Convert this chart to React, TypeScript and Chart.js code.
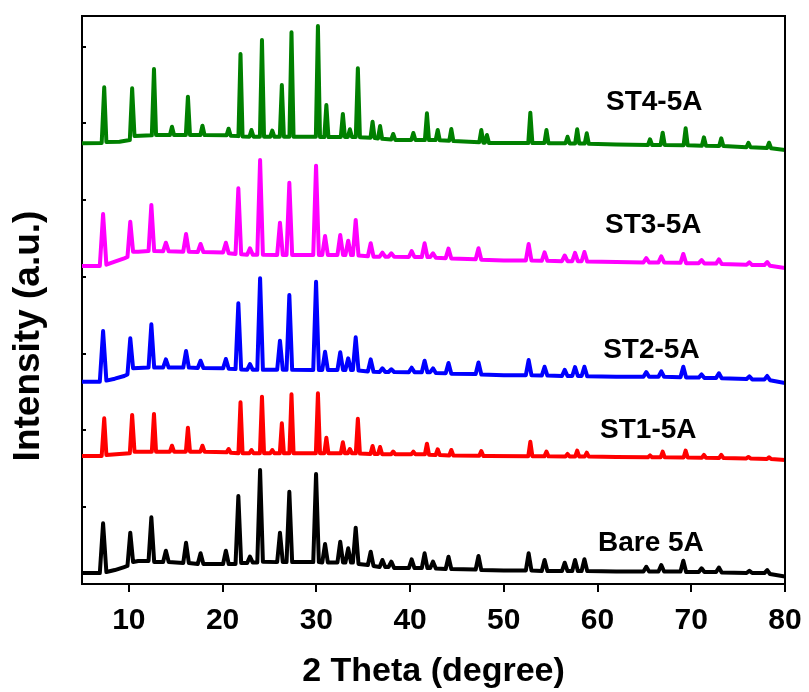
import React, { useEffect, useRef } from "react";
import { Chart, registerables } from "chart.js";

Chart.register(...registerables);

// ---------- DATA ----------
const SERIES_NAMES = ["Bare 5A", "ST1-5A", "ST2-5A", "ST3-5A", "ST4-5A"];
const SERIES_COLORS = ["#000000", "#FF0000", "#0000FF", "#FF00FF", "#008000"];
const SERIES_OFFSETS = [0, 150, 250, 400, 560];
const X_TICKS = [10, 20, 30, 40, 50, 60, 70, 80];
const Y_TICKS = [100, 200, 300, 400, 500, 600, 700];

// 2θ grid for Bare 5A, ST2-5A, ST3-5A
const THETA_BROAD = [
  5.0, 6.9, 7.25, 7.6, 8.5, 9.5, 9.85, 10.15, 10.45, 11.0,
  12.1, 12.4, 12.7, 13.65, 13.95, 14.25, 15.8, 16.1, 16.4, 17.35,
  17.65, 17.95, 20.05, 20.35, 20.65, 21.38, 21.68, 21.98, 22.62, 22.92,
  23.22, 23.7, 24.0, 24.3, 25.82, 26.12, 26.42, 26.82, 27.12, 27.42,
  29.67, 29.97, 30.27, 30.63, 30.93, 31.23, 32.25, 32.55, 32.85, 33.1,
  33.4, 33.7, 33.9, 34.2, 34.5, 35.5, 35.8, 36.1, 36.75, 37.05,
  37.35, 37.7, 38.0, 38.3, 39.87, 40.17, 40.47, 41.25, 41.55, 41.85,
  42.15, 42.45, 42.75, 43.8, 44.1, 44.4, 47.0, 47.3, 47.6, 50.0,
  52.35, 52.65, 52.95, 54.05, 54.35, 54.65, 56.2, 56.5, 56.8, 57.3,
  57.6, 57.9, 58.3, 58.6, 58.9, 62.0, 64.9, 65.2, 65.5, 66.5,
  66.8, 67.1, 68.85, 69.15, 69.45, 70.8, 71.1, 71.4, 72.65, 72.95,
  73.25, 75.9, 76.2, 76.5, 77.8, 78.1, 78.4, 80.0,
];

const BARE_5A = [
  14.3, 14.3, 79.1, 15.6, 18.2, 22.1, 23.5, 66.8, 28.7, 30.0,
  30.0, 86.9, 28.7, 28.7, 43.4, 28.7, 27.4, 53.8, 27.4, 26.1,
  40.0, 26.1, 26.1, 43.4, 26.1, 26.1, 114.6, 27.4, 27.4, 35.6,
  28.0, 28.0, 148.5, 29.0, 28.5, 66.8, 28.5, 28.5, 120.2, 28.5,
  28.5, 143.3, 28.5, 28.0, 52.1, 28.0, 28.0, 55.1, 28.0, 28.0,
  46.5, 28.0, 28.0, 73.3, 26.1, 24.8, 42.1, 23.5, 22.1, 31.3,
  22.1, 22.1, 29.1, 20.8, 20.8, 32.2, 20.8, 20.8, 40.0, 20.8,
  20.8, 29.1, 20.2, 19.5, 35.6, 19.5, 18.9, 36.5, 18.2, 17.6,
  17.6, 40.0, 17.6, 16.9, 31.3, 16.9, 16.9, 27.7, 16.9, 16.9,
  31.3, 16.9, 16.9, 32.2, 16.9, 16.3, 16.3, 22.5, 16.3, 16.3,
  24.8, 16.3, 16.3, 30.4, 15.6, 15.6, 20.5, 15.6, 15.6, 21.5,
  15.0, 14.3, 17.3, 14.3, 14.3, 18.2, 13.0, 9.8,
];

const ST2_5A = [
  13.6, 13.6, 79.6, 15.0, 17.5, 21.0, 23.0, 70.1, 31.0, 31.5,
  32.0, 88.3, 32.0, 32.0, 42.7, 32.0, 32.0, 53.5, 32.0, 31.5,
  40.9, 31.5, 31.0, 43.1, 30.5, 30.0, 115.7, 29.5, 29.0, 36.6,
  29.0, 29.0, 148.3, 29.0, 29.0, 67.0, 29.0, 29.0, 126.5, 29.0,
  28.8, 143.8, 28.8, 28.8, 52.6, 28.8, 28.8, 51.9, 28.8, 28.8,
  44.0, 28.8, 28.8, 71.4, 28.0, 27.0, 42.7, 26.5, 26.2, 31.0,
  26.2, 26.2, 29.7, 26.2, 26.0, 31.8, 26.0, 26.0, 40.9, 26.0,
  26.0, 31.0, 25.0, 24.5, 38.0, 24.0, 23.5, 38.5, 23.0, 22.0,
  22.0, 41.8, 22.0, 21.5, 33.0, 21.5, 21.0, 29.0, 21.0, 21.0,
  32.5, 21.0, 21.0, 33.0, 20.5, 20.0, 20.0, 26.0, 20.0, 20.0,
  27.0, 20.0, 19.5, 33.0, 19.0, 19.0, 23.0, 18.5, 18.5, 24.5,
  18.0, 17.0, 20.5, 16.5, 16.5, 21.0, 15.5, 11.9,
];

const ST3_5A = [
  14.3, 14.3, 82.0, 16.0, 20.0, 24.3, 26.0, 72.0, 32.9, 33.0,
  33.8, 93.8, 33.8, 33.5, 44.6, 33.5, 33.0, 56.0, 33.0, 32.5,
  43.0, 32.5, 32.0, 44.6, 31.0, 30.0, 115.5, 29.5, 29.0, 37.3,
  29.0, 29.0, 152.4, 29.0, 28.6, 70.7, 28.6, 28.6, 122.8, 28.6,
  28.6, 145.0, 28.6, 28.6, 53.4, 28.6, 28.6, 54.8, 28.6, 28.6,
  47.3, 28.6, 28.6, 74.2, 28.0, 27.0, 43.9, 26.5, 26.4, 31.6,
  26.4, 26.4, 30.8, 26.4, 26.0, 33.8, 26.0, 26.0, 43.9, 26.0,
  26.0, 30.8, 25.0, 24.5, 37.0, 24.0, 23.0, 37.5, 22.5, 21.5,
  21.5, 43.0, 21.5, 21.0, 32.0, 21.0, 20.5, 28.0, 20.5, 20.5,
  31.5, 20.5, 20.5, 32.5, 20.0, 19.5, 19.0, 24.5, 19.0, 19.0,
  27.0, 19.0, 18.5, 30.0, 18.0, 18.0, 22.0, 17.5, 17.5, 23.0,
  17.0, 16.0, 19.0, 15.5, 15.5, 19.5, 14.5, 11.7,
];

// 2θ grid for ST1-5A, ST4-5A (sharper, slightly shifted peaks)
const THETA_SHARP = [
  5.0, 7.1, 7.37, 7.6, 9.0, 10.1, 10.35, 10.6, 12.45, 12.68,
  12.9, 14.38, 14.6, 14.82, 16.08, 16.3, 16.52, 17.63, 17.85, 18.07,
  20.42, 20.64, 20.86, 21.69, 21.91, 22.13, 22.86, 23.08, 23.3, 23.98,
  24.2, 24.42, 25.08, 25.3, 25.52, 26.1, 26.32, 26.54, 27.13, 27.35,
  27.57, 29.95, 30.17, 30.39, 30.85, 31.07, 31.29, 32.61, 32.83, 33.05,
  33.36, 33.58, 33.8, 34.21, 34.43, 34.65, 35.78, 36.0, 36.22, 36.58,
  36.8, 37.02, 37.98, 38.2, 38.42, 40.13, 40.35, 40.57, 41.58, 41.8,
  42.02, 42.73, 42.95, 43.17, 44.18, 44.4, 44.62, 47.38, 47.6, 47.82,
  47.98, 48.2, 48.42, 52.61, 52.83, 53.05, 54.33, 54.55, 54.77, 56.58,
  56.8, 57.02, 57.61, 57.83, 58.05, 58.63, 58.85, 59.07, 62.0, 65.38,
  65.6, 65.82, 66.73, 66.95, 67.17, 69.18, 69.4, 69.62, 71.13, 71.35,
  71.57, 72.98, 73.2, 73.42, 75.88, 76.1, 76.32, 78.08, 78.3, 78.52,
  80.0,
];

const ST1_5A = [
  16.8, 16.8, 65.9, 18.1, 19.4, 20.3, 70.2, 22.4, 22.4, 71.5,
  22.4, 22.4, 30.2, 22.4, 22.4, 53.6, 22.4, 22.4, 30.2, 22.4,
  21.5, 25.9, 21.0, 20.5, 86.7, 20.3, 20.3, 24.6, 20.3, 20.3,
  94.1, 20.3, 20.3, 24.6, 20.3, 20.3, 59.4, 20.3, 20.3, 97.1,
  20.3, 20.3, 98.4, 20.3, 20.3, 40.6, 20.3, 20.3, 34.6, 20.3,
  20.3, 25.9, 20.3, 20.3, 65.2, 20.0, 19.5, 29.8, 19.3, 19.3,
  28.5, 19.0, 19.0, 22.6, 19.0, 19.0, 22.4, 19.0, 19.0, 32.8,
  18.5, 18.0, 25.5, 18.0, 17.5, 24.6, 17.5, 17.0, 23.3, 16.8,
  16.8, 16.8, 16.8, 16.5, 35.4, 16.5, 16.3, 22.4, 16.3, 16.0,
  19.4, 16.0, 16.0, 23.7, 16.0, 16.0, 21.1, 16.0, 15.5, 15.1,
  17.5, 15.1, 15.0, 22.4, 15.0, 14.8, 23.7, 14.8, 14.5, 18.1,
  14.5, 14.2, 18.1, 14.2, 13.6, 15.5, 13.6, 12.8, 15.1, 12.8,
  11.5,
];

const ST4_5A = [
  14.1, 14.5, 87.1, 15.8, 16.2, 18.4, 85.8, 23.7, 24.5, 110.9,
  25.0, 25.0, 35.8, 25.0, 25.0, 74.9, 25.0, 25.0, 37.1, 25.0,
  24.5, 33.2, 24.0, 23.5, 130.5, 23.0, 22.7, 31.5, 22.7, 22.7,
  148.7, 22.7, 22.7, 30.6, 22.7, 22.7, 90.1, 22.7, 22.7, 158.8,
  22.7, 22.7, 167.0, 22.5, 22.3, 64.0, 22.3, 22.3, 52.3, 22.3,
  22.3, 32.4, 22.3, 22.3, 111.9, 22.0, 21.5, 42.3, 21.0, 20.5,
  36.7, 20.0, 19.0, 26.3, 18.5, 18.4, 27.6, 18.4, 18.4, 53.2,
  18.4, 18.4, 31.5, 18.0, 17.5, 32.8, 17.0, 15.5, 31.5, 15.0,
  15.0, 25.0, 14.5, 14.5, 54.0, 14.5, 14.5, 31.5, 14.3, 14.2,
  22.7, 14.0, 14.0, 32.4, 14.0, 13.8, 27.2, 13.5, 12.5, 12.0,
  19.4, 12.0, 12.0, 28.0, 11.9, 11.5, 33.7, 11.5, 11.0, 21.9,
  11.0, 10.5, 20.6, 10.5, 9.0, 14.9, 9.0, 8.0, 14.9, 7.8,
  5.4,
];

// ---------- LAYOUT / STYLE ----------
const FONT = "'Liberation Sans', Arial, Helvetica, sans-serif";
// label anchors in data coordinates (2θ, stacked intensity)
const LABEL_ANCHORS = [
  { x: 60.05, y: 43 },
  { x: 60.27, y: 190 },
  { x: 60.6, y: 294 },
  { x: 60.8, y: 457 },
  { x: 60.9, y: 617 },
];

const SERIES = [
  { theta: THETA_BROAD, values: BARE_5A },
  { theta: THETA_SHARP, values: ST1_5A },
  { theta: THETA_BROAD, values: ST2_5A },
  { theta: THETA_BROAD, values: ST3_5A },
  { theta: THETA_SHARP, values: ST4_5A },
];

const overlayPlugin = {
  id: "xrdOverlay",
  afterDraw(chart: any) {
    const { ctx, chartArea, scales } = chart;
    ctx.save();
    // top and right frame lines
    ctx.strokeStyle = "#000";
    ctx.lineWidth = 2;
    ctx.beginPath();
    ctx.moveTo(chartArea.left, chartArea.top);
    ctx.lineTo(chartArea.right, chartArea.top);
    ctx.lineTo(chartArea.right, chartArea.bottom);
    ctx.stroke();
    // series labels
    ctx.fillStyle = "#000";
    ctx.font = `bold 28px ${FONT}`;
    ctx.textAlign = "left";
    ctx.textBaseline = "alphabetic";
    SERIES_NAMES.forEach((name, i) => {
      const a = LABEL_ANCHORS[i];
      ctx.fillText(name, scales.x.getPixelForValue(a.x), scales.y.getPixelForValue(a.y));
    });
    // y axis title
    ctx.translate(29, (chartArea.top + chartArea.bottom) / 2 + 36);
    ctx.rotate(-Math.PI / 2);
    ctx.font = `bold 37px ${FONT}`;
    ctx.textAlign = "center";
    ctx.textBaseline = "middle";
    ctx.fillText("Intensity (a.u.)", 0, 0);
    ctx.restore();
  },
};

export default function App() {
  const ref = useRef<HTMLCanvasElement | null>(null);

  useEffect(() => {
    if (!ref.current) return;
    SERIES.forEach((s, i) => {
      if (s.theta.length !== s.values.length) {
        console.warn("length mismatch", SERIES_NAMES[i], s.theta.length, s.values.length);
      }
    });
    const datasets = SERIES.map((s, i) => ({
      label: SERIES_NAMES[i],
      data: s.theta.map((t, k) => ({ x: t, y: s.values[k] + SERIES_OFFSETS[i] })),
      borderColor: SERIES_COLORS[i],
      backgroundColor: SERIES_COLORS[i],
      borderWidth: 4,
      pointRadius: 0,
      tension: 0,
      fill: false,
      borderJoinStyle: "round" as const,
      borderCapStyle: "round" as const,
    }));

    const chart = new Chart(ref.current, {
      type: "line",
      data: { datasets },
      options: {
        responsive: false,
        animation: false,
        layout: { padding: { top: 16, right: 24, left: 0, bottom: 0 } },
        plugins: {
          legend: { display: false },
          tooltip: { enabled: false },
          title: { display: false },
        },
        scales: {
          x: {
            type: "linear",
            min: 5,
            max: 80,
            afterBuildTicks: (s: any) => {
              s.ticks = X_TICKS.map((v) => ({ value: v }));
            },
            afterFit: (s: any) => {
              s.height = 108;
              s.paddingLeft = 0;
              s.paddingRight = 0;
            },
            ticks: {
              color: "#000",
              font: { family: FONT, size: 30, weight: "bold" },
              padding: 11,
              maxRotation: 0,
              autoSkip: false,
              callback: (v: any) => String(v),
            },
            grid: {
              drawOnChartArea: false,
              drawTicks: true,
              tickLength: 8,
              color: "#000",
              lineWidth: 2,
            },
            border: { display: true, color: "#000", width: 2 },
            title: {
              display: true,
              text: "2 Theta (degree)",
              color: "#000",
              font: { family: FONT, size: 34, weight: "bold" },
              padding: { top: 0, bottom: 0 },
            },
          },
          y: {
            type: "linear",
            min: 0,
            max: 740,
            afterBuildTicks: (s: any) => {
              s.ticks = Y_TICKS.map((v) => ({ value: v }));
            },
            afterFit: (s: any) => {
              s.width = 82;
              s.paddingTop = 0;
              s.paddingBottom = 0;
            },
            ticks: { display: false },
            grid: {
              drawOnChartArea: false,
              drawTicks: true,
              tickLength: -4,
              color: "#000",
              lineWidth: 2,
            },
            border: { display: true, color: "#000", width: 2 },
          },
        },
      },
      plugins: [overlayPlugin],
    });
    return () => chart.destroy();
  }, []);

  return (
    <div style={{ position: "absolute", left: 0, top: 0, width: 809, height: 692, background: "#fff" }}>
      <canvas ref={ref} width={809} height={692} style={{ display: "block", width: 809, height: 692 }} />
    </div>
  );
}
